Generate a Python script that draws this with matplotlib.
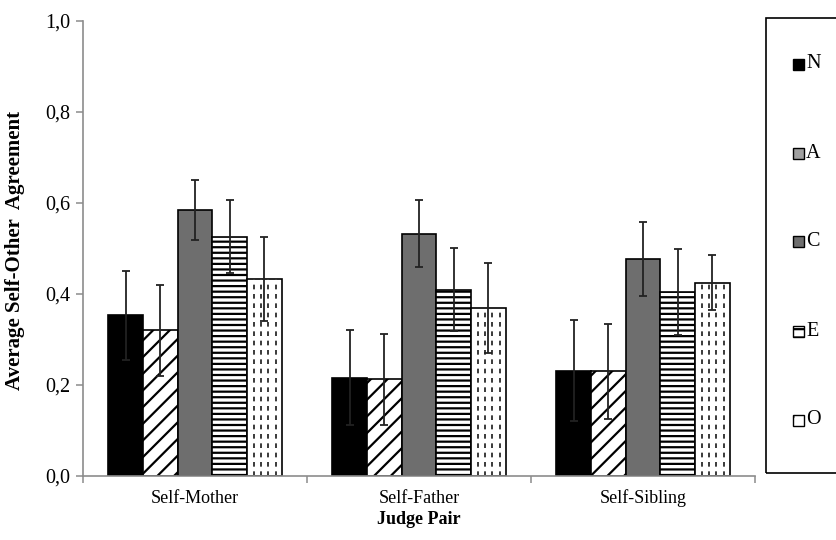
import numpy as np
import matplotlib
matplotlib.use("Agg")
import matplotlib.pyplot as plt
from matplotlib.patches import Rectangle
from matplotlib.ticker import FuncFormatter


# ----------------------------------------
# DATA
# ----------------------------------------

judge_pairs = ["Self-Mother", "Self-Father", "Self-Sibling"]
traits = ["N", "A", "C", "E", "O"]

# mean agreement per trait, one value per judge pair
means_N = [0.352, 0.215, 0.231]
means_A = [0.319, 0.212, 0.229]
means_C = [0.584, 0.532, 0.476]
means_E = [0.525, 0.409, 0.403]
means_O = [0.432, 0.369, 0.424]

# error bar half-widths
err_N = [0.097, 0.104, 0.111]
err_A = [0.099, 0.100, 0.104]
err_C = [0.066, 0.073, 0.082]
err_E = [0.080, 0.092, 0.094]
err_O = [0.092, 0.099, 0.060]

y_ticks = [0.0, 0.2, 0.4, 0.6, 0.8, 1.0]


# ----------------------------------------
# STYLE
# ----------------------------------------

plt.rcParams["font.family"] = ["Liberation Serif", "DejaVu Serif"]
plt.rcParams["hatch.linewidth"] = 1.6
plt.rcParams["hatch.color"] = "black"

means = [means_N, means_A, means_C, means_E, means_O]
errs = [err_N, err_A, err_C, err_E, err_O]

bar_styles = [
    dict(facecolor="black", hatch=None),
    dict(facecolor="white", hatch="//"),
    dict(facecolor="#6e6e6e", hatch=None),
    dict(facecolor="white", hatch="---"),
    dict(facecolor="white", hatch=None),
]

axis_grey = "#8c8c8c"


# ----------------------------------------
# CHART
# ----------------------------------------

fig = plt.figure(figsize=(8.37, 5.40), dpi=100)
ax = fig.add_axes([83 / 837, 1 - 475.7 / 540, (755 - 83) / 837, (475.7 - 20.5) / 540])

x = np.arange(len(judge_pairs))
width = 0.1545

for i, trait in enumerate(traits):

    offset = (i - 2) * width

    bars = ax.bar(
        x + offset,
        means[i],
        width,
        edgecolor="black",
        linewidth=1.2,
        zorder=2,
        **bar_styles[i]
    )

    # dashed vertical fill for the O bars
    if trait == "O":
        for rect in bars:
            x0 = rect.get_x()
            w = rect.get_width()
            h = rect.get_height()
            for f in (0.2, 0.41, 0.62, 0.83):
                line, = ax.plot(
                    [x0 + f * w, x0 + f * w],
                    [0, h],
                    color="#3a3a3a",
                    linewidth=1.4,
                    linestyle=(0, (2.4, 2.4)),
                    zorder=2.5
                )
                line.set_clip_path(rect)

    ax.errorbar(
        x + offset,
        means[i],
        yerr=errs[i],
        fmt="none",
        ecolor="#222222",
        elinewidth=1.3,
        capsize=3,
        capthick=1.3,
        zorder=3
    )

ax.set_xlim(-0.5, 2.5)
ax.set_ylim(0, 1.0)

ax.set_yticks(y_ticks)
ax.yaxis.set_major_formatter(
    FuncFormatter(lambda v, pos: f"{v:.1f}".replace(".", ","))
)

ax.set_xticks(x)
ax.set_xticklabels(judge_pairs)
ax.set_xticks([-0.5, 0.5, 1.5, 2.5], minor=True)

ax.tick_params(axis="x", which="major", length=0, pad=10, labelsize=13)
ax.tick_params(axis="x", which="minor", length=5, width=1.1, color=axis_grey, direction="out")
ax.tick_params(axis="y", length=5, width=1.1, color=axis_grey, direction="out", pad=4, labelsize=14.5)

for side in ["top", "right"]:
    ax.spines[side].set_visible(False)

for side in ["left", "bottom"]:
    ax.spines[side].set_color(axis_grey)
    ax.spines[side].set_linewidth(1.2)

fig.text(
    15 / 837, 1 - 250 / 540,
    "Average Self-Other  Agreement",
    rotation=90,
    ha="center",
    va="center",
    fontsize=15,
    fontweight="bold"
)

fig.text(
    419 / 837, 1 - 520 / 540,
    "Judge Pair",
    ha="center",
    va="center",
    fontsize=13,
    fontweight="bold"
)


# ----------------------------------------
# LEGEND
# ----------------------------------------

fig.add_artist(Rectangle(
    (766 / 837, 1 - 473 / 540),
    (840 - 766) / 837,
    (473 - 18) / 540,
    transform=fig.transFigure,
    facecolor="none",
    edgecolor="black",
    linewidth=1.2
))

legend_styles = [
    dict(facecolor="black", hatch=None),
    dict(facecolor="#a0a0a0", hatch=None),
    dict(facecolor="#6e6e6e", hatch=None),
    dict(facecolor="white", hatch="--"),
    dict(facecolor="white", hatch="."),
]

for i, trait in enumerate(traits):

    yc = 64 + i * 89

    fig.add_artist(Rectangle(
        (793 / 837, 1 - (yc + 5.5) / 540),
        11 / 837,
        11 / 540,
        transform=fig.transFigure,
        edgecolor="black",
        linewidth=1.0,
        **legend_styles[i]
    ))

    fig.text(
        806 / 837, 1 - yc / 540,
        trait,
        ha="left",
        va="center",
        fontsize=14.5
    )

fig.savefig("out.png", dpi=100)
